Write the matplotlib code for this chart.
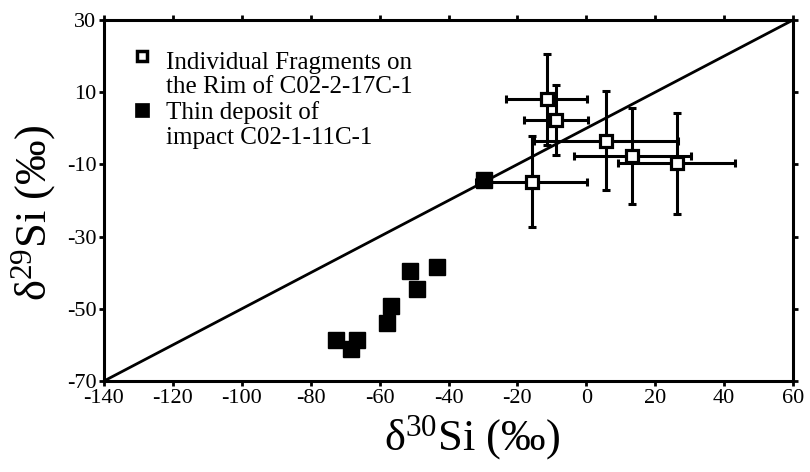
import matplotlib
matplotlib.use("Agg")
import matplotlib.pyplot as plt

plt.rcParams['font.family'] = ['Liberation Serif', 'DejaVu Serif']
plt.rcParams['mathtext.fontset'] = 'custom'
plt.rcParams['mathtext.rm'] = 'Liberation Serif'
plt.rcParams['mathtext.it'] = 'Liberation Serif:italic'
plt.rcParams['mathtext.default'] = 'regular'
plt.rcParams['axes.unicode_minus'] = False

# Individual fragments on the rim (open squares, with error bars)
frag_d30 = [-11.5, -8.8, -15.8, 5.7, 13.4, 26.2]
frag_d29 = [8.0, 2.3, -14.8, -3.4, -7.6, -9.7]
frag_d30_err = [11.7, 9.3, 16.1, 21.0, 16.9, 17.0]
frag_d29_err = [12.6, 9.6, 12.6, 13.7, 13.3, 14.0]

# Thin deposit of impact (filled squares)
dep_d30 = [-51.2, -43.4, -49.1, -56.7, -57.8, -72.7, -66.6, -68.4, -29.7]
dep_d29 = [-39.4, -38.3, -44.5, -49.2, -53.8, -58.6, -58.6, -61.2, -14.3]

# Mass-dependent fractionation line
line_d30 = [-140, 60]
line_d29 = [-70, 30]

x_ticks = [-140, -120, -100, -80, -60, -40, -20, 0, 20, 40, 60]
y_ticks = [-70, -50, -30, -10, 10, 30]

fig = plt.figure(figsize=(8.1, 4.72), dpi=100)
ax = fig.add_axes([104/810, 1-381/472, 689/810, 361/472])

ax.plot(line_d30, line_d29, color='black', lw=2.0, zorder=1, solid_capstyle='butt')

ax.errorbar(frag_d30, frag_d29, xerr=frag_d30_err, yerr=frag_d29_err,
            fmt='none', ecolor='black', elinewidth=2.2, capsize=3, capthick=2.2, zorder=2)
ax.plot(frag_d30, frag_d29, ls='none', marker='s', ms=8.5, mfc='white',
        mec='black', mew=2.3, zorder=4)
ax.plot(dep_d30, dep_d29, ls='none', marker='s', ms=11.5, mfc='black',
        mec='black', mew=1.0, zorder=3)

ax.set_xlim(-140, 60)
ax.set_ylim(-70, 30)
ax.set_xticks(x_ticks)
ax.set_yticks(y_ticks)
ax.tick_params(axis='both', which='both', direction='out', length=3.5, width=2,
               labelsize=16, pad=2, top=True, right=True)
for s in ax.spines.values():
    s.set_linewidth(2.2)

# legend drawn manually
ax.plot([0.0556], [0.8994], transform=ax.transAxes, marker='s', ms=7.5, mfc='white',
        mec='black', mew=2.5, ls='none', clip_on=False)
ax.plot([0.0556], [0.7507], transform=ax.transAxes, marker='s', ms=9.5, mfc='black',
        mec='black', mew=0.5, ls='none', clip_on=False)
leg_lines = [("Individual Fragments on", 0.865),
             ("the Rim of C02-2-17C-1", 0.798),
             ("Thin deposit of", 0.7266),
             ("impact C02-1-11C-1", 0.6565)]
for txt, yy in leg_lines:
    ax.text(0.0896, yy, txt, transform=ax.transAxes, fontsize=18,
            ha='left', va='baseline')

ax.set_xlabel("δ$^{30}$Si ($\\mathit{‰}$)", fontsize=32)
ax.xaxis.set_label_coords(0.534, -0.158)
ax.xaxis.label.set_verticalalignment('center')
ax.set_ylabel("δ$^{29}$Si ($\\mathit{‰}$)", fontsize=32)
ax.yaxis.set_label_coords(-0.1016, 0.465)
ax.yaxis.label.set_verticalalignment('center')

fig.savefig("out.png", dpi=100)
